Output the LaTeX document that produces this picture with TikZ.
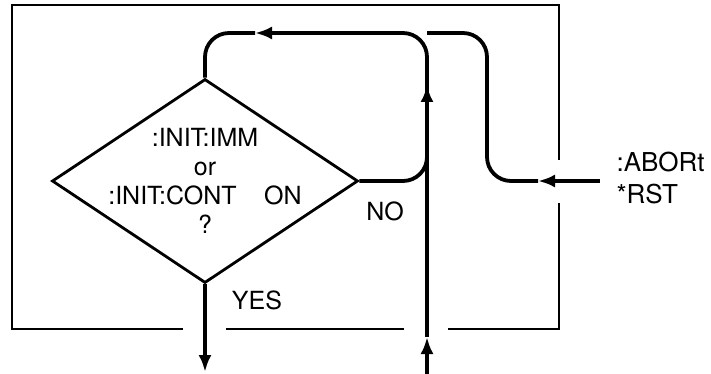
\documentclass[tikz,border=0pt]{standalone}
\usepackage{fontspec}
\setmainfont{TeX Gyre Heros}
\usetikzlibrary{shapes.geometric,arrows.meta,positioning}

\begin{document}
\begin{tikzpicture}[
    x=1pt, y=-1pt,
    font=\fontsize{25}{29}\selectfont,
    decision/.style={draw, line width=2.8pt, shape=diamond, inner sep=0pt,
                     minimum width=306pt, minimum height=204pt},
    flow/.style={line width=3.8pt, rounded corners=24pt},
    arr/.style={flow, -{Latex[length=17pt, width=13pt]}},
    frame/.style={line width=2pt}
]
    \useasboundingbox (0,0) rectangle (711,374);

    % Frame with gaps
    \draw[frame] (183,329) -- (12,329) -- (12,5) -- (559,5) -- (559,160);
    \draw[frame] (559,203) -- (559,329) -- (448,329);
    \draw[frame] (404,329) -- (226,329);

    % Decision
    \node[decision] (test) at (205,181) {};
    \node[align=center] (question) at (test.center)
        {:INIT:IMM\\or\\:INIT:CONT\hspace{1.1em}ON\\?};

    % Points
    \coordinate (topArr) at (255,33);
    \coordinate (topJoin) at (427,33);
    \coordinate (midBot) at (427,374);
    \coordinate (midLow) at (427,337);
    \coordinate (midUp) at (427,85);
    \coordinate (abIn) at (600,181);
    \coordinate (abTip) at (538,181);
    \coordinate (abCorner) at (487,33);
    \coordinate (yesEnd) at (205,372);

    % Flow lines
    \draw[flow] (topArr) -| (test.north);
    \draw[arr] (midBot) -- (midLow);
    \draw[arr] (midLow) -- (midUp);
    \draw[arr] (midUp) |- (topArr);
    \draw[flow] (test.east) -| (midUp);
    \draw[arr] (abIn) -- (abTip);
    \draw[flow] (abTip) -| (abCorner) -- (topJoin);
    \draw[arr] (test.south) -- (yesEnd);

    % Labels
    \node (no) at (385,211) {NO};
    \node (yes) at (257,300) {YES};
    \node[align=left, anchor=west, font=\fontsize{26}{32}\selectfont] (abort)
        at (613,178) {:ABORt\\*RST};
\end{tikzpicture}
\end{document}
